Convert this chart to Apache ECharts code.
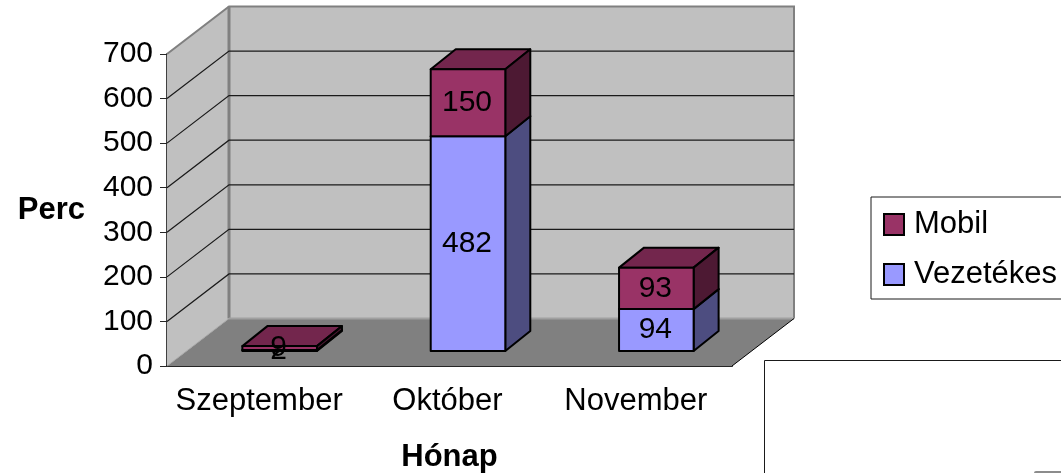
<!DOCTYPE html>
<html>
<head>
<meta charset="utf-8">
<style>
  html, body { margin: 0; padding: 0; background: #fff; overflow: hidden; }
  #chart { width: 1061px; height: 473px; }
</style>
<script src="https://cdn.jsdelivr.net/npm/echarts@6/dist/echarts.min.js"></script>
</head>
<body>
<div id="chart"></div>
<script>
var months = ['Szeptember', 'Október', 'November'];
var vezetekes = [2, 482, 94];
var mobil = [9, 150, 93];
var gridTicks = [100, 200, 300, 400, 500, 600];

var font = '"Liberation Sans", Arial, sans-serif';
var fontSize = 31;

// depth of the 3d box, in pixels
var wallDx = 62, wallDy = -47.5;
var barShiftX = 18.5, barShiftY = -15;
var barDx = 25, barDy = -20;

function poly(points, fill, stroke, width) {
  return {
    type: 'polygon',
    shape: { points: points },
    style: { fill: fill, stroke: stroke, lineWidth: width, lineJoin: 'round' }
  };
}

function line(points, stroke, width) {
  return {
    type: 'polyline',
    shape: { points: points },
    style: { fill: 'none', stroke: stroke, lineWidth: width }
  };
}

function renderWalls(params, api) {
  var fl = api.coord([0, 0]), fr = api.coord([2, 0]), tl = api.coord([0, 700]);
  var half = api.size([1, 0])[0] / 2;
  var x0 = fl[0] - half, x1 = fr[0] + half, y0 = fl[1], y1 = tl[1];
  return {
    type: 'group',
    children: [
      // floor
      poly([[x0, y0], [x1, y0], [x1 + wallDx, y0 + wallDy], [x0 + wallDx, y0 + wallDy]], '#808080', 'none', 0),
      // left wall
      poly([[x0, y0], [x0 + wallDx, y0 + wallDy], [x0 + wallDx, y1 + wallDy], [x0, y1]], '#c0c0c0', 'none', 0),
      // back wall
      poly([[x0 + wallDx, y0 + wallDy], [x1 + wallDx, y0 + wallDy], [x1 + wallDx, y1 + wallDy], [x0 + wallDx, y1 + wallDy]], '#c0c0c0', 'none', 0),
      line([[x0, y1], [x0 + wallDx, y1 + wallDy], [x1 + wallDx, y1 + wallDy], [x1 + wallDx, y0 + wallDy]], '#808080', 2),
      line([[x0 + wallDx, y1 + wallDy], [x0 + wallDx, y0 + wallDy]], '#808080', 3),
      line([[x0, y0], [x0 + wallDx, y0 + wallDy]], '#a6a6a6', 1),
      line([[x0 + wallDx, y0 + wallDy], [x1 + wallDx, y0 + wallDy]], '#a0a0a0', 2),
      line([[x1, y0], [x1 + wallDx, y0 + wallDy]], '#000', 1)
    ]
  };
}

function renderGrid(params, api) {
  var left = api.coord([0, api.value(0)]);
  var right = api.coord([2, api.value(0)]);
  var half = api.size([1, 0])[0] / 2;
  var x0 = left[0] - half, x1 = right[0] + half, y = left[1];
  return line([[x0, y], [x0 + wallDx, y + wallDy], [x1 + wallDx, y + wallDy]], '#1a1a1a', 1.2);
}

function stackRenderer(front, top, side) {
  return function (params, api) {
    var from = api.coord([api.value(0), api.value(1)]);
    var to = api.coord([api.value(0), api.value(2)]);
    var half = api.size([1, 0])[0] * 0.198;
    var l = from[0] + barShiftX - half, r = from[0] + barShiftX + half;
    var b = from[1] + barShiftY, t = to[1] + barShiftY;
    return {
      type: 'group',
      children: [
        poly([[l, t], [r, t], [r + barDx, t + barDy], [l + barDx, t + barDy]], top, '#000', 2),
        poly([[r, b], [r + barDx, b + barDy], [r + barDx, t + barDy], [r, t]], side, '#000', 2),
        poly([[l, b], [r, b], [r, t], [l, t]], front, '#000', 2),
        {
          type: 'text',
          style: {
            x: (l + r) / 2 - 1,
            y: (b + t) / 2,
            text: String(api.value(3)),
            fill: '#000',
            font: '30px ' + font,
            align: 'center',
            verticalAlign: 'middle'
          }
        }
      ]
    };
  };
}

var vezetekesData = months.map(function (m, i) {
  return [i, 0, vezetekes[i], vezetekes[i]];
});
var mobilData = months.map(function (m, i) {
  return [i, vezetekes[i], vezetekes[i] + mobil[i], mobil[i]];
});

var myChart = echarts.init(document.getElementById('chart'), null, { renderer: 'canvas' });
myChart.setOption({
  animation: false,
  backgroundColor: '#fff',
  textStyle: { fontFamily: font },
  grid: { left: 167, right: 329, top: 54, bottom: 107, outerBoundsMode: 'none' },
  legend: {
    left: 871,
    top: 197,
    orient: 'vertical',
    padding: [12, 12, 9, 12],
    itemGap: 19,
    itemWidth: 20,
    itemHeight: 21,
    borderColor: '#1a1a1a',
    borderWidth: 1,
    textStyle: { fontSize: fontSize, fontFamily: font, color: '#000', padding: [0, 0, 0, 5] },
    data: [
      { name: 'Mobil', icon: 'rect', itemStyle: { color: '#993366', borderColor: '#000', borderWidth: 2 } },
      { name: 'Vezetékes', icon: 'rect', itemStyle: { color: '#9999ff', borderColor: '#000', borderWidth: 2 } }
    ]
  },
  xAxis: {
    type: 'category',
    data: months,
    name: 'Hónap',
    nameLocation: 'middle',
    nameGap: 76,
    nameTextStyle: { fontSize: fontSize, fontWeight: 'bold', color: '#000', fontFamily: font },
    axisLine: { lineStyle: { color: '#262626', width: 2 } },
    axisTick: { length: 7, lineStyle: { color: '#262626' } },
    axisLabel: { fontSize: fontSize, color: '#000', margin: 20, fontFamily: font, interval: 0, padding: [0, 4, 0, 0] }
  },
  yAxis: {
    type: 'value',
    min: 0,
    max: 700,
    interval: 100,
    name: 'Perc',
    nameLocation: 'middle',
    nameRotate: 0,
    nameGap: 82,
    nameTextStyle: { fontSize: fontSize, fontWeight: 'bold', color: '#000', fontFamily: font, padding: [6, 0, 0, 0] },
    splitLine: { show: false },
    axisLine: { show: true, lineStyle: { color: '#404040', width: 2 } },
    axisTick: { show: true, length: 7, lineStyle: { color: '#262626' } },
    axisLabel: { fontSize: 30, color: '#000', margin: 14, fontFamily: font, padding: [2, 0, 0, 0] }
  },
  series: [
    { name: 'walls', type: 'custom', silent: true, z: 1, renderItem: renderWalls, data: [[0]] },
    { name: 'grid', type: 'custom', silent: true, z: 2, renderItem: renderGrid, data: gridTicks.map(function (v) { return [v]; }), encode: { y: 0 } },
    { name: 'Vezetékes', type: 'custom', z: 3, renderItem: stackRenderer('#9999ff', '#7a7acc', '#4d4d80'), data: vezetekesData, encode: { x: 0, y: 2 } },
    { name: 'Mobil', type: 'custom', z: 4, renderItem: stackRenderer('#993366', '#73264d', '#4d1933'), data: mobilData, encode: { x: 0, y: 2 } }
  ],
  graphic: [
    {
      type: 'rect',
      shape: { x: 764.5, y: 360.5, width: 320, height: 140 },
      style: { fill: '#fff', stroke: '#1a1a1a', lineWidth: 1 },
      z: 10
    },
    {
      type: 'rect',
      shape: { x: 1034, y: 471, width: 40, height: 10, r: 2 },
      style: { fill: '#8c8c8c' },
      z: 11
    }
  ]
});
</script>
</body>
</html>
